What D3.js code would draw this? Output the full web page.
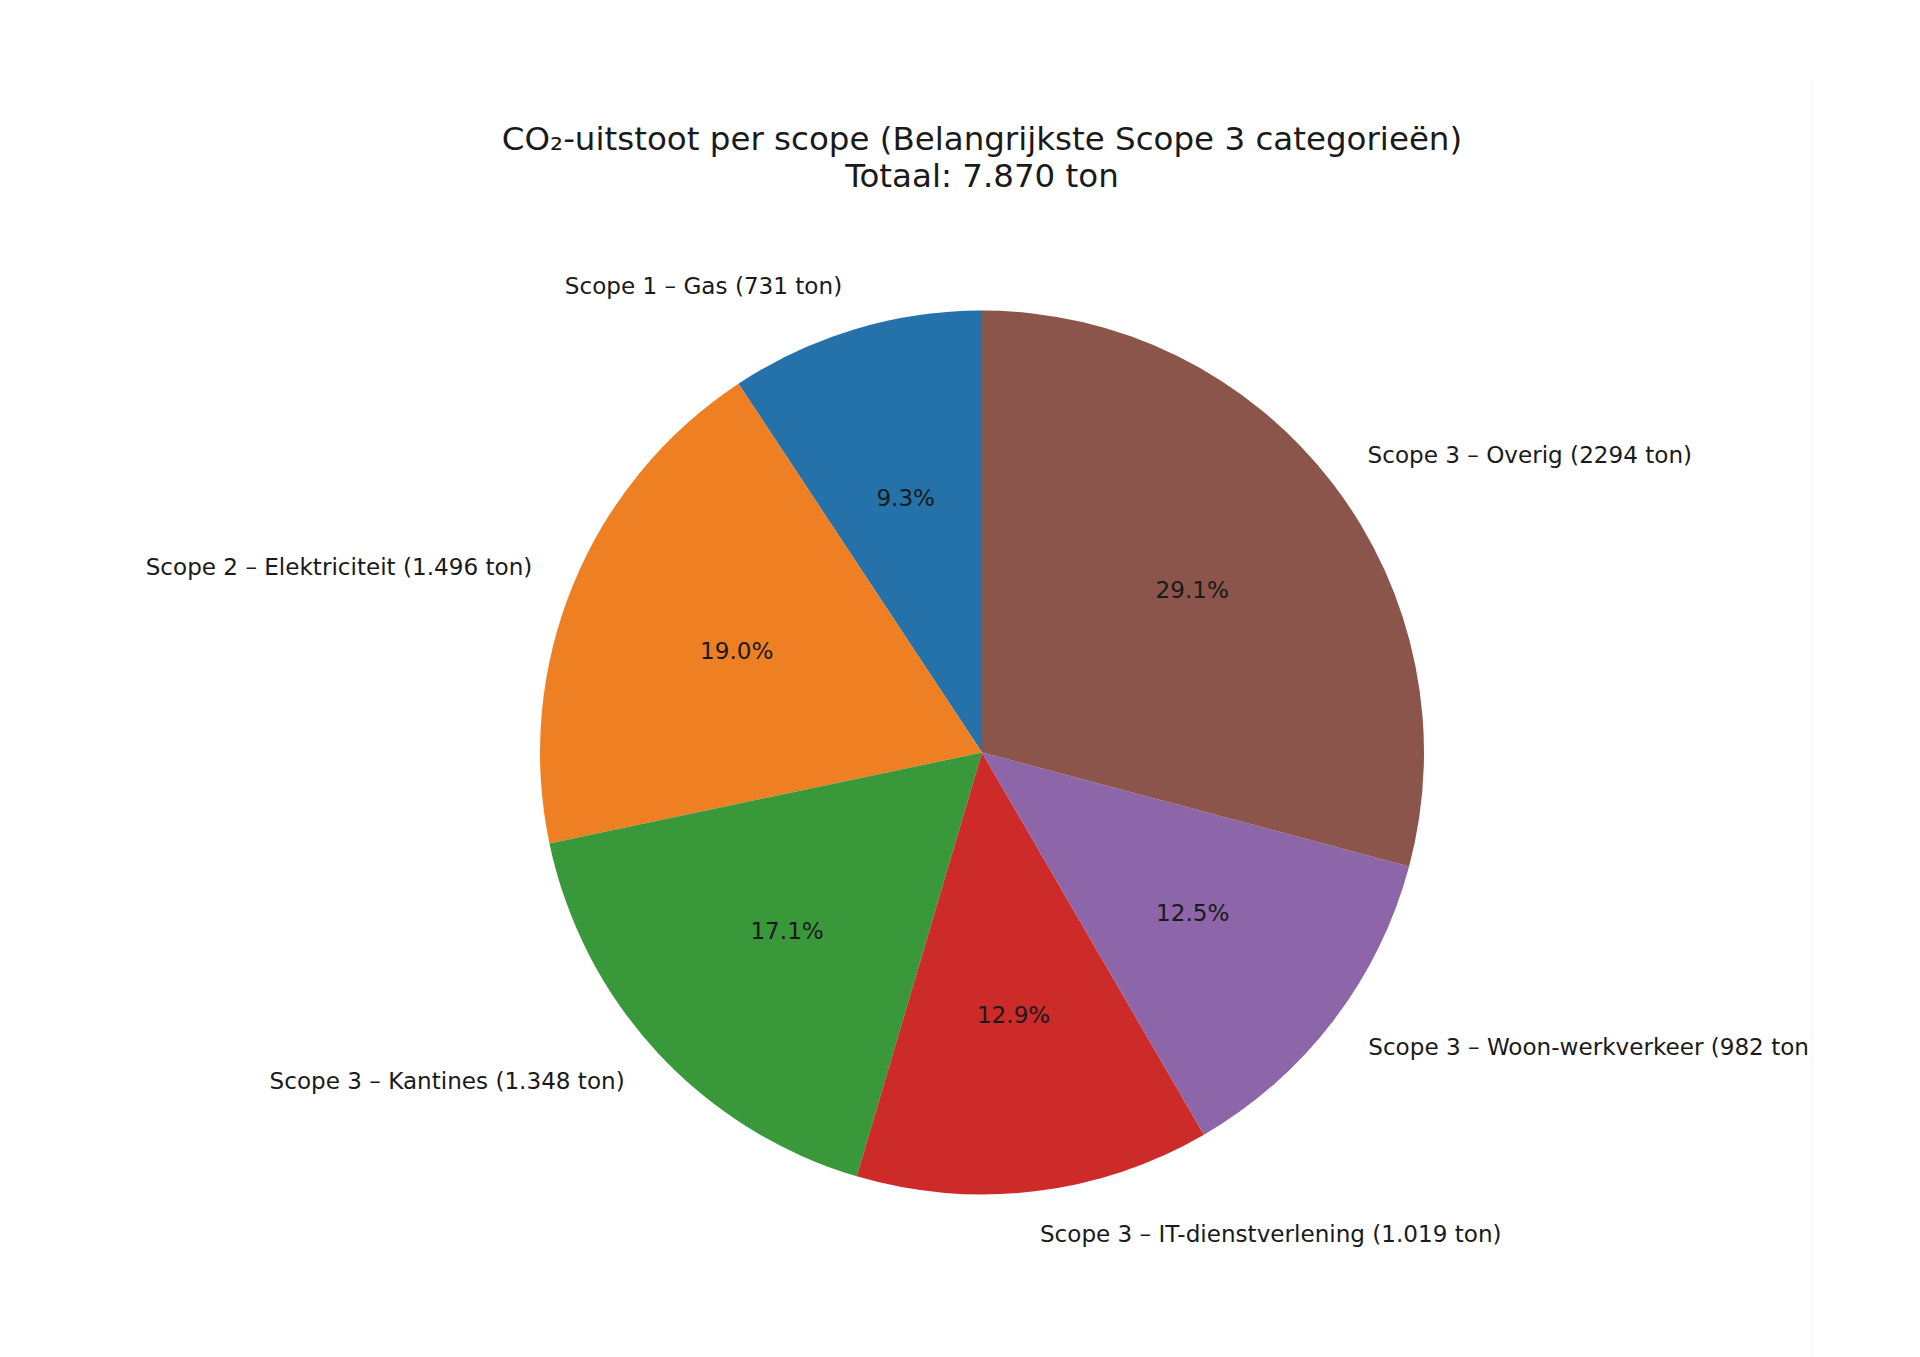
<!DOCTYPE html>
<html>
<head>
<meta charset="utf-8">
<script src="https://cdn.jsdelivr.net/npm/d3@7"></script>
<style>
  html, body { margin: 0; padding: 0; background: #ffffff; }
  svg { display: block; }
  text { font-family: "DejaVu Sans", sans-serif; fill: #1a1a1a; }
</style>
</head>
<body>
<svg id="chart" width="1920" height="1357"></svg>
<script>
// ---- data ----
const categories = [
  "Scope 1 – Gas (731 ton)",
  "Scope 2 – Elektriciteit (1.496 ton)",
  "Scope 3 – Kantines (1.348 ton)",
  "Scope 3 – IT-dienstverlening (1.019 ton)",
  "Scope 3 – Woon-werkverkeer (982 ton)",
  "Scope 3 – Overig (2294 ton)"
];
const values = [731, 1496, 1348, 1019, 982, 2294];
const colors = ["#2472a9", "#ee7f22", "#38983a", "#cd2a2a", "#8c66a8", "#8b554b"];
const titleLines = ["CO₂-uitstoot per scope (Belangrijkste Scope 3 categorieën)", "Totaal: 7.870 ton"];

// ---- layout ----
const W = 1920, H = 1357;
const cx = 982, cy = 752.5, R = 442;
const clipX = 1811;

const svg = d3.select("#chart");
svg.append("rect").attr("width", W).attr("height", H).attr("fill", "#ffffff");

svg.append("defs").append("clipPath").attr("id", "figclip")
  .append("rect").attr("x", 0).attr("y", 0).attr("width", clipX).attr("height", H);

// faint edge of the original figure
svg.append("line").attr("x1", clipX + 1.5).attr("x2", clipX + 1.5)
  .attr("y1", 80).attr("y2", H).attr("stroke", "#f6f6f8").attr("stroke-width", 1.5);

const fig = svg.append("g").attr("clip-path", "url(#figclip)");

const total = d3.sum(values);
const pie = d3.pie().sort(null).value(d => d).startAngle(0).endAngle(-2 * Math.PI);
const arcs = pie(values);

const arc = d3.arc().innerRadius(0).outerRadius(R);
const labelArc = d3.arc().innerRadius(R * 1.1).outerRadius(R * 1.1);
const pctArc = d3.arc().innerRadius(R * 0.6).outerRadius(R * 0.6);

const g = fig.append("g").attr("transform", `translate(${cx},${cy})`);

g.selectAll("path.slice").data(arcs).join("path")
  .attr("class", "slice")
  .attr("d", arc)
  .attr("fill", (d, i) => colors[i]);

// outer labels
g.selectAll("text.lbl").data(arcs).join("text")
  .attr("class", "lbl")
  .attr("x", d => labelArc.centroid(d)[0])
  .attr("y", d => labelArc.centroid(d)[1] - 1)
  .attr("text-anchor", d => labelArc.centroid(d)[0] < 0 ? "end" : "start")
  .attr("dominant-baseline", "central")
  .attr("font-size", 23.1)
  .text((d, i) => categories[i]);

// percentage labels
g.selectAll("text.pct").data(arcs).join("text")
  .attr("class", "pct")
  .attr("x", d => pctArc.centroid(d)[0])
  .attr("y", d => pctArc.centroid(d)[1] - 1)
  .attr("text-anchor", "middle")
  .attr("dominant-baseline", "central")
  .attr("font-size", 23.1)
  .text(d => (d.value / total * 100).toFixed(1) + "%");

// title
const title = fig.append("text")
  .attr("x", cx)
  .attr("text-anchor", "middle")
  .attr("font-size", 32.5);
title.selectAll("tspan").data(titleLines).join("tspan")
  .attr("x", cx)
  .attr("y", (d, i) => 150 + i * 37)
  .text(d => d);
</script>
</body>
</html>
